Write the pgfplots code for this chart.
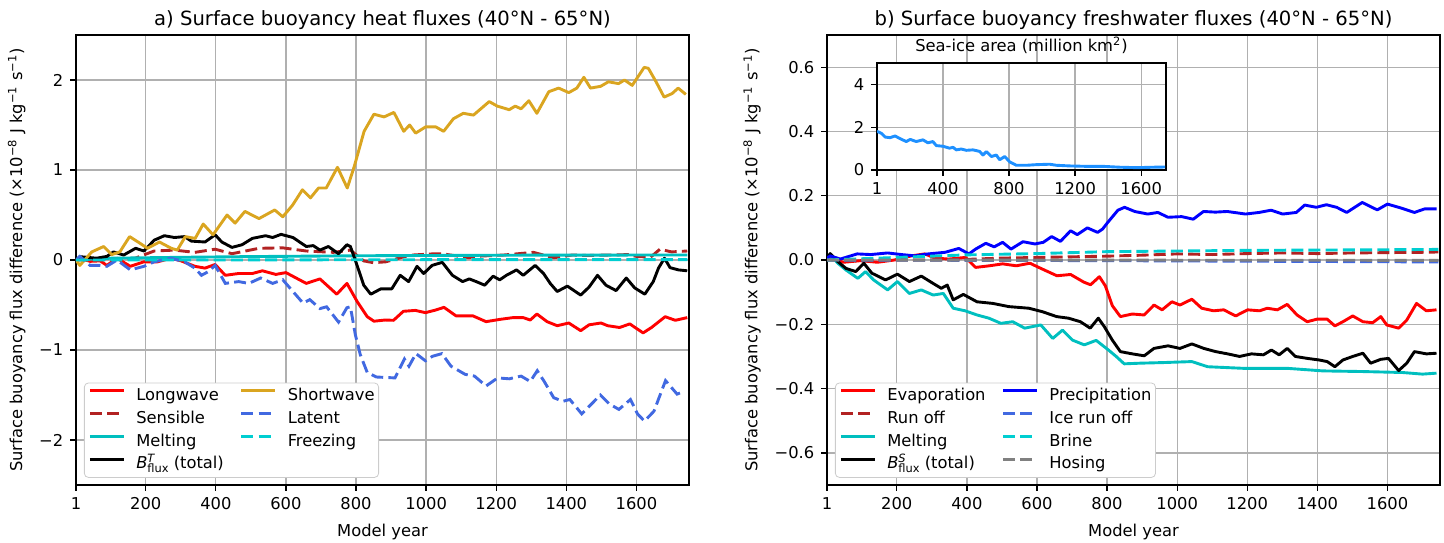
\documentclass[border=0pt]{standalone}
\usepackage{fontspec}
\setmainfont{DejaVu Sans}
\usepackage{pgfplots}
\pgfplotsset{compat=1.18}
\definecolor{gridgray}{RGB}{176,176,176}
\definecolor{mplred}{RGB}{255,0,0}
\definecolor{goldenrod}{RGB}{218,165,32}
\definecolor{firebrick}{RGB}{178,34,34}
\definecolor{royalblue}{RGB}{65,105,225}
\definecolor{mplc}{RGB}{0,191,191}
\definecolor{darkturq}{RGB}{0,206,209}
\definecolor{mplblue}{RGB}{0,0,255}
\definecolor{mplgray}{RGB}{128,128,128}
\definecolor{dodger}{RGB}{30,144,255}
\newcommand{\fs}{\fontsize{8.16}{9.8}\selectfont}
\newcommand{\ft}{\fontsize{9.8}{11.8}\selectfont}
\newcommand{\Bflux}[1]{\textit{B}\makebox[0pt][l]{\raisebox{0.75ex}{\fontsize{5.7}{6}\selectfont\textit{#1}}}\raisebox{-0.45ex}{\fontsize{5.7}{6}\selectfont flux}}
\pgfplotsset{
  every axis title shift=0pt,
  mpl/.style={
    scale only axis, width=306.5pt, height=225pt,
    xmin=1, xmax=1750,
    xtick={1,200,400,600,800,1000,1200,1400,1600},
    xticklabels={1,200,400,600,800,1000,1200,1400,1600},
    grid=major, major grid style={line width=0.65pt, color=gridgray},
    tick align=outside, tick pos=left, major tick length=2.85pt,
    every tick/.style={black, line width=0.65pt},
    axis line style={line width=0.65pt},
    tick label style={font=\fs},
    /pgf/number format/assume math mode=true,
    label style={font=\fs},
    title style={font=\ft, at={(0.5,1)}, anchor=base, yshift=5pt},
    xlabel={Model year},
    ylabel={Surface buoyancy flux difference (×10\textsuperscript{−8} J kg\textsuperscript{−1} s\textsuperscript{−1})},
    legend cell align=left,
    legend columns=2,
    legend image code/.code={\draw[##1, line width=1.45pt] (0pt,2.6pt) -- (17pt,2.6pt);},
    legend style={font=\fs, draw=black!20, rounded corners=2pt, fill=white,
      inner xsep=2pt, inner ysep=2.5pt, anchor=south west,
      nodes={inner sep=0pt, text height=6.2pt, text depth=1.8pt},
      row sep=3.4pt,
      /tikz/every odd column/.append style={column sep=5.5pt},
      /tikz/every even column/.append style={column sep=8pt}},
  },
  ln/.style={line width=1.45pt, line join=round},
  dsh/.style={line width=1.45pt, dash pattern=on 6pt off 2.6pt},
}
\begin{document}
\begin{tikzpicture}
%%%%%%%%%%%%%%%% LEFT PANEL
\begin{axis}[mpl, at={(0pt,0pt)}, anchor=south west,
  ymin=-2.5, ymax=2.5, ytick={-2,-1,0,1,2}, yticklabels={−2,−1,0,1,2},
  title={a) Surface buoyancy heat fluxes (40°N - 65°N)},
  legend style={at={(0.013,0.016)}}]
% Longwave
\addplot[ln, mplred, forget plot] coordinates {(1,0)(12,0.02)(41,-0.015)(70,-0.01)(89,-0.06)(118,0.02)(156,-0.07)(195,-0.02)(234,-0.02)(272,0.02)(301,-0.01)(340,-0.07)(369,-0.09)(398,-0.05)(427,-0.17)(465,-0.15)(504,-0.15)(533,-0.12)(571,-0.16)(600,-0.14)(629,-0.20)(658,-0.26)(697,-0.21)(745,-0.38)(774,-0.26)(803,-0.46)(832,-0.63)(851,-0.68)(883,-0.667)(907,-0.67)(935,-0.57)(969,-0.56)(998,-0.585)(1027,-0.556)(1051,-0.526)(1085,-0.62)(1133,-0.62)(1171,-0.685)(1210,-0.66)(1248,-0.64)(1277,-0.64)(1297,-0.667)(1316,-0.6)(1345,-0.685)(1374,-0.73)(1407,-0.70)(1441,-0.785)(1465,-0.72)(1499,-0.70)(1518,-0.73)(1552,-0.75)(1581,-0.71)(1619,-0.81)(1643,-0.75)(1682,-0.63)(1711,-0.67)(1745,-0.64)};
% Sensible
\addplot[dsh, firebrick, forget plot] coordinates {(1,0)(60,0.0)(120,0.01)(170,0.02)(224,0.10)(282,0.11)(340,0.085)(398,0.12)(446,0.07)(523,0.13)(591,0.135)(658,0.10)(735,0.085)(784,0.11)(822,-0.01)(850,-0.03)(885,-0.02)(940,0.04)(964,0.056)(1027,0.07)(1044,0.07)(1123,0.025)(1134,0.04)(1220,0.055)(1306,0.085)(1364,0.025)(1418,0.056)(1460,0.05)(1576,0.06)(1600,0.04)(1640,0.03)(1667,0.12)(1700,0.09)(1745,0.1)};
% Melting
\addplot[ln, mplc, forget plot] coordinates {(1,0.0)(100,0.02)(300,0.03)(500,0.038)(800,0.047)(1200,0.053)(1745,0.056)};
% B total
\addplot[ln, black, forget plot] coordinates {(1,0)(12,0.037)(60,0.02)(89,0.04)(108,0.09)(137,0.055)(171,0.13)(195,0.10)(224,0.22)(253,0.27)(282,0.25)(311,0.26)(330,0.21)(369,0.20)(398,0.28)(417,0.20)(446,0.14)(475,0.17)(504,0.24)(542,0.27)(562,0.25)(586,0.285)(620,0.25)(658,0.15)(678,0.16)(697,0.11)(721,0.15)(750,0.07)(774,0.17)(784,0.15)(803,-0.06)(822,-0.28)(842,-0.38)(871,-0.32)(902,-0.32)(926,-0.17)(950,-0.24)(974,-0.07)(993,-0.15)(1017,-0.06)(1046,-0.026)(1075,-0.17)(1104,-0.24)(1123,-0.21)(1143,-0.24)(1167,-0.28)(1191,-0.18)(1210,-0.22)(1229,-0.17)(1258,-0.11)(1277,-0.17)(1311,-0.06)(1335,-0.15)(1354,-0.26)(1374,-0.35)(1403,-0.29)(1441,-0.39)(1465,-0.30)(1489,-0.17)(1513,-0.28)(1542,-0.34)(1571,-0.20)(1595,-0.31)(1624,-0.38)(1648,-0.24)(1663,-0.09)(1680,0.02)(1696,-0.085)(1720,-0.11)(1745,-0.12)};
% Shortwave
\addplot[ln, goldenrod, forget plot] coordinates {(1,0)(12,-0.06)(46,0.09)(80,0.15)(103,0.06)(126,0.09)(154,0.26)(182,0.19)(205,0.13)(239,0.20)(273,0.13)(290,0.11)(313,0.26)(341,0.24)(364,0.40)(392,0.28)(432,0.50)(455,0.41)(483,0.54)(523,0.46)(568,0.556)(591,0.48)(619,0.61)(647,0.78)(670,0.69)(693,0.80)(715,0.80)(747,1.03)(775,0.80)(795,1.04)(823,1.43)(851,1.62)(880,1.59)(908,1.64)(936,1.43)(953,1.50)(970,1.41)(999,1.48)(1027,1.48)(1050,1.43)(1078,1.57)(1106,1.63)(1135,1.61)(1180,1.76)(1203,1.71)(1237,1.67)(1254,1.71)(1271,1.68)(1293,1.77)(1316,1.63)(1350,1.87)(1378,1.91)(1407,1.86)(1430,1.91)(1450,2.03)(1469,1.91)(1498,1.93)(1520,1.98)(1549,1.96)(1566,2.0)(1588,1.94)(1622,2.14)(1634,2.13)(1656,1.98)(1679,1.81)(1702,1.85)(1719,1.91)(1741,1.84)};
% Latent
\addplot[dsh, royalblue, forget plot] coordinates {(1,0)(12,0.04)(41,-0.06)(70,-0.06)(89,-0.07)(118,0)(156,-0.11)(195,-0.07)(224,-0.02)(272,0.02)(311,-0.02)(340,-0.09)(359,-0.17)(378,-0.13)(398,-0.06)(427,-0.26)(465,-0.24)(494,-0.26)(528,-0.20)(562,-0.26)(591,-0.22)(620,-0.35)(649,-0.48)(668,-0.44)(697,-0.54)(716,-0.52)(750,-0.69)(774,-0.53)(784,-0.52)(798,-0.83)(812,-1.05)(832,-1.25)(858,-1.30)(911,-1.31)(938,-1.10)(951,-1.18)(971,-1.04)(998,-1.12)(1018,-1.07)(1045,-1.04)(1071,-1.18)(1111,-1.27)(1138,-1.29)(1171,-1.40)(1204,-1.31)(1237,-1.32)(1271,-1.29)(1297,-1.35)(1317,-1.23)(1337,-1.35)(1364,-1.53)(1390,-1.57)(1410,-1.55)(1444,-1.71)(1497,-1.50)(1523,-1.60)(1550,-1.66)(1583,-1.55)(1603,-1.71)(1623,-1.79)(1650,-1.68)(1683,-1.34)(1716,-1.49)(1736,-1.46)};
% Freezing
\addplot[dsh, darkturq, forget plot] coordinates {(1,0.0)(400,0.0)(800,0.003)(1745,0.005)};
\addlegendimage{ln, mplred}\addlegendentry{Longwave}
\addlegendimage{ln, goldenrod}\addlegendentry{Shortwave}
\addlegendimage{dsh, firebrick}\addlegendentry{Sensible}
\addlegendimage{dsh, royalblue}\addlegendentry{Latent}
\addlegendimage{ln, mplc}\addlegendentry{Melting}
\addlegendimage{dsh, darkturq}\addlegendentry{Freezing}
\addlegendimage{ln, black}\addlegendentry{\Bflux{T} (total)}
\end{axis}
%%%%%%%%%%%%%%%% RIGHT PANEL
\begin{axis}[mpl, at={(375.5pt,0pt)}, anchor=south west,
  ymin=-0.7, ymax=0.7, ytick={-0.6,-0.4,-0.2,0,0.2,0.4,0.6},
  yticklabels={−0.6,−0.4,−0.2,0.0,0.2,0.4,0.6},
  title={b) Surface buoyancy freshwater fluxes (40°N - 65°N)},
  legend style={at={(0.013,0.016)}}]
% Evaporation
\addplot[ln, mplred, forget plot] coordinates {(1,0.005)(10,0.006)(48,-0.007)(97,-0.002)(145,-0.007)(193,0.0)(242,0.013)(280,0.019)(309,0.006)(348,0.003)(377,0.006)(396,0.008)(425,-0.023)(464,-0.018)(502,-0.012)(541,-0.018)(580,-0.01)(609,-0.025)(657,-0.049)(696,-0.045)(734,-0.069)(753,-0.077)(778,-0.052)(795,-0.08)(815,-0.142)(838,-0.176)(872,-0.168)(906,-0.171)(934,-0.14)(957,-0.155)(985,-0.13)(1008,-0.14)(1042,-0.122)(1070,-0.15)(1104,-0.158)(1133,-0.155)(1167,-0.174)(1201,-0.155)(1235,-0.158)(1257,-0.15)(1286,-0.155)(1314,-0.138)(1342,-0.171)(1371,-0.192)(1399,-0.184)(1428,-0.184)(1450,-0.205)(1473,-0.192)(1501,-0.174)(1530,-0.192)(1558,-0.195)(1581,-0.176)(1598,-0.202)(1632,-0.212)(1655,-0.187)(1683,-0.135)(1711,-0.158)(1740,-0.155)};
% Run off
\addplot[dsh, firebrick, forget plot] coordinates {(1,0.0)(100,-0.003)(200,0.0)(300,0.0)(400,0.002)(500,0.006)(600,0.008)(700,0.01)(800,0.012)(900,0.015)(1000,0.019)(1100,0.017)(1200,0.02)(1300,0.022)(1400,0.02)(1500,0.022)(1600,0.023)(1700,0.024)(1745,0.025)};
% Melting
\addplot[ln, mplc, forget plot] coordinates {(1,0.005)(10,0.016)(32,-0.01)(55,-0.031)(89,-0.057)(111,-0.036)(134,-0.062)(174,-0.093)(202,-0.067)(236,-0.104)(270,-0.093)(304,-0.109)(333,-0.104)(361,-0.15)(395,-0.158)(429,-0.171)(463,-0.181)(497,-0.197)(531,-0.192)(565,-0.212)(611,-0.202)(645,-0.244)(673,-0.218)(701,-0.249)(735,-0.264)(769,-0.25)(804,-0.28)(826,-0.30)(849,-0.323)(894,-0.321)(962,-0.319)(1042,-0.316)(1087,-0.332)(1189,-0.337)(1314,-0.337)(1416,-0.345)(1530,-0.347)(1643,-0.35)(1700,-0.355)(1740,-0.352)};
% B total
\addplot[ln, black, forget plot] coordinates {(1,0.005)(10,0.02)(32,-0.005)(55,-0.026)(83,-0.036)(106,-0.01)(129,-0.041)(168,-0.062)(202,-0.044)(236,-0.067)(270,-0.05)(304,-0.073)(327,-0.088)(344,-0.078)(361,-0.124)(390,-0.107)(429,-0.13)(474,-0.135)(520,-0.145)(577,-0.15)(616,-0.161)(656,-0.176)(690,-0.181)(724,-0.192)(752,-0.212)(775,-0.181)(792,-0.207)(815,-0.249)(838,-0.285)(872,-0.292)(906,-0.298)(934,-0.275)(974,-0.267)(1008,-0.275)(1042,-0.261)(1076,-0.275)(1110,-0.285)(1144,-0.292)(1178,-0.30)(1212,-0.292)(1246,-0.295)(1269,-0.28)(1291,-0.295)(1314,-0.275)(1337,-0.30)(1371,-0.306)(1405,-0.311)(1428,-0.316)(1450,-0.332)(1473,-0.311)(1501,-0.30)(1530,-0.29)(1552,-0.321)(1581,-0.309)(1603,-0.306)(1632,-0.344)(1655,-0.321)(1677,-0.285)(1711,-0.292)(1740,-0.29)};
% Precipitation
\addplot[ln, mplblue, forget plot] coordinates {(1,0.005)(10,0.013)(39,0.003)(87,0.019)(126,0.017)(174,0.022)(213,0.017)(251,0.013)(290,0.019)(338,0.024)(377,0.036)(406,0.019)(425,0.034)(454,0.052)(478,0.041)(502,0.055)(526,0.034)(560,0.057)(594,0.05)(618,0.055)(642,0.073)(667,0.058)(696,0.091)(715,0.079)(744,0.10)(773,0.086)(787,0.096)(802,0.117)(831,0.155)(850,0.164)(879,0.151)(916,0.143)(945,0.148)(974,0.133)(1013,0.135)(1046,0.127)(1075,0.151)(1109,0.149)(1143,0.151)(1195,0.143)(1234,0.148)(1268,0.155)(1301,0.143)(1340,0.148)(1364,0.171)(1397,0.164)(1426,0.172)(1455,0.164)(1484,0.148)(1528,0.179)(1571,0.156)(1600,0.174)(1638,0.162)(1677,0.148)(1706,0.159)(1740,0.159)};
% Ice run off
\addplot[dsh, royalblue, forget plot] coordinates {(1,0)(800,-0.002)(1745,-0.006)};
% Brine
\addplot[dsh, darkturq, forget plot] coordinates {(1,0.0)(200,0.008)(400,0.016)(600,0.02)(800,0.026)(1000,0.028)(1200,0.03)(1400,0.031)(1600,0.032)(1745,0.033)};
% Hosing
\addplot[dsh, mplgray, forget plot] coordinates {(1,0)(1745,-0.001)};
\addlegendimage{ln, mplred}\addlegendentry{Evaporation}
\addlegendimage{ln, mplblue}\addlegendentry{Precipitation}
\addlegendimage{dsh, firebrick}\addlegendentry{Run off}
\addlegendimage{dsh, royalblue}\addlegendentry{Ice run off}
\addlegendimage{ln, mplc}\addlegendentry{Melting}
\addlegendimage{dsh, darkturq}\addlegendentry{Brine}
\addlegendimage{ln, black}\addlegendentry{\Bflux{S} (total)}
\addlegendimage{dsh, mplgray}\addlegendentry{Hosing}
\end{axis}
%%%%%%%%%%%%%%%% INSET
\begin{axis}[at={(400.5pt,157.5pt)}, anchor=south west,
  scale only axis, width=144.5pt, height=53.5pt,
  xmin=1, xmax=1750, ymin=0, ymax=5,
  xtick={1,400,800,1200,1600}, xticklabels={1,400,800,1200,1600},
  ytick={0,2,4}, yticklabels={0,2,4},
  axis background/.style={fill=white},
  grid=major, major grid style={line width=0.65pt, color=gridgray},
  tick align=outside, tick pos=left, major tick length=2.85pt,
  every tick/.style={black, line width=0.65pt},
  axis line style={line width=0.65pt},
  tick label style={font=\fs},
  title={Sea-ice area (million km\textsuperscript{2})},
  title style={font=\fs, at={(0.5,1)}, anchor=base, yshift=6pt}]
\addplot[ln, dodger] coordinates {(1,1.8)(10,1.78)(30,1.70)(50,1.54)(80,1.51)(110,1.59)(150,1.43)(178,1.33)(202,1.43)(238,1.33)(279,1.41)(309,1.27)(339,1.33)(360,1.14)(400,1.11)(440,1.02)(461,1.06)(481,0.94)(511,0.98)(541,0.92)(582,0.94)(622,0.87)(642,0.70)(663,0.86)(693,0.63)(723,0.70)(743,0.48)(774,0.63)(804,0.38)(844,0.22)(905,0.22)(966,0.25)(1046,0.27)(1087,0.22)(1168,0.19)(1269,0.17)(1370,0.17)(1471,0.13)(1572,0.11)(1673,0.13)(1744,0.14)};
\end{axis}
\pgfresetboundingbox
\path (-38pt,-28.5pt) rectangle (684pt,242.5pt);
\end{tikzpicture}
\end{document}
